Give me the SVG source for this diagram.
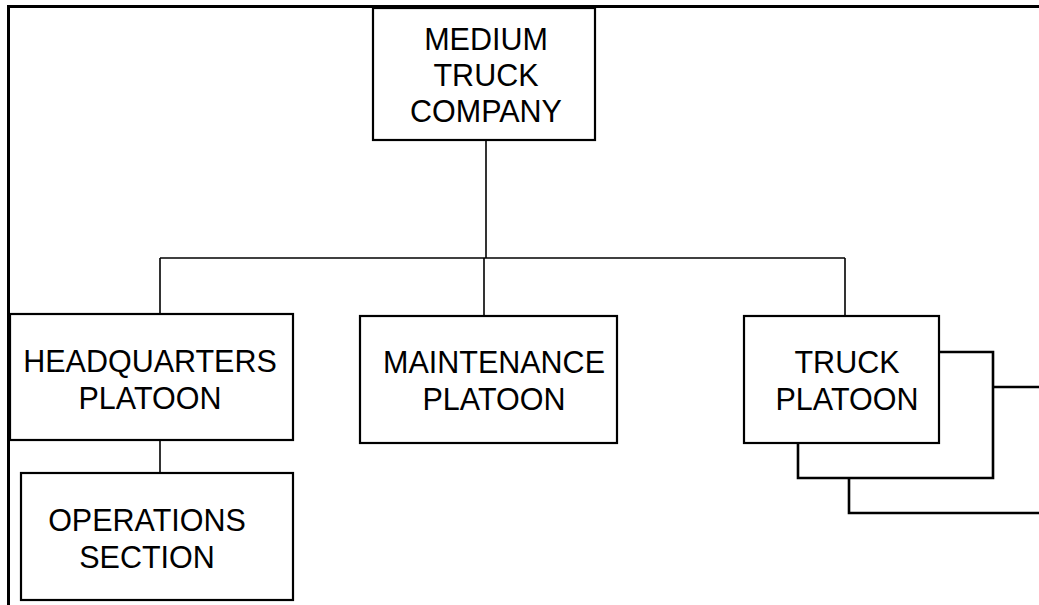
<svg xmlns="http://www.w3.org/2000/svg" width="1039" height="605" viewBox="0 0 1039 605">
<style>
.box{fill:#fff;stroke:#000;stroke-width:2.2}
.ln{fill:none;stroke:#000;stroke-width:1.6}
.stk{fill:none;stroke:#000;stroke-width:2.6}
.frame{fill:none;stroke:#000;stroke-width:3}
text{font-family:"Liberation Sans",Arial,sans-serif;font-size:30.5px;fill:#000;text-anchor:middle}
</style>
<rect width="1039" height="605" fill="#fff"/>
<g id="connectors">
<line class="ln" x1="486" y1="140" x2="486" y2="258"/>
<line class="ln" x1="160" y1="258" x2="845" y2="258"/>
<line class="ln" x1="160" y1="258" x2="160" y2="314"/>
<line class="ln" x1="484" y1="258" x2="484" y2="316"/>
<line class="ln" x1="845" y1="258" x2="845" y2="316"/>
<line class="ln" x1="160" y1="440" x2="160" y2="473"/>
</g>
<g id="stack">
<path class="stk" d="M939,352 H993 V478 H798 V443"/>
<path class="stk" d="M993,387 H1039"/>
<path class="stk" d="M849,478 V513 H1039"/>
</g>
<g id="medium">
<rect class="box" x="373" y="8" width="222" height="132"/>
<text x="486" y="50">MEDIUM</text>
<text x="486" y="86">TRUCK</text>
<text x="486" y="122">COMPANY</text>
</g>
<g id="hq">
<rect class="box" x="10" y="314" width="283" height="126"/>
<text x="150" y="372">HEADQUARTERS</text>
<text x="150" y="409">PLATOON</text>
</g>
<g id="ops">
<rect class="box" x="21" y="473" width="272" height="127"/>
<text x="147" y="531">OPERATIONS</text>
<text x="147" y="568">SECTION</text>
</g>
<g id="maint">
<rect class="box" x="360" y="316" width="257" height="127"/>
<text x="494" y="373">MAINTENANCE</text>
<text x="494" y="410">PLATOON</text>
</g>
<g id="truck">
<rect class="box" x="744" y="316" width="195" height="127"/>
<text x="847" y="373">TRUCK</text>
<text x="847" y="410">PLATOON</text>
</g>
<g id="frame">
<path class="frame" d="M1039,6.5 H8.5 V605"/>
</g>
</svg>
